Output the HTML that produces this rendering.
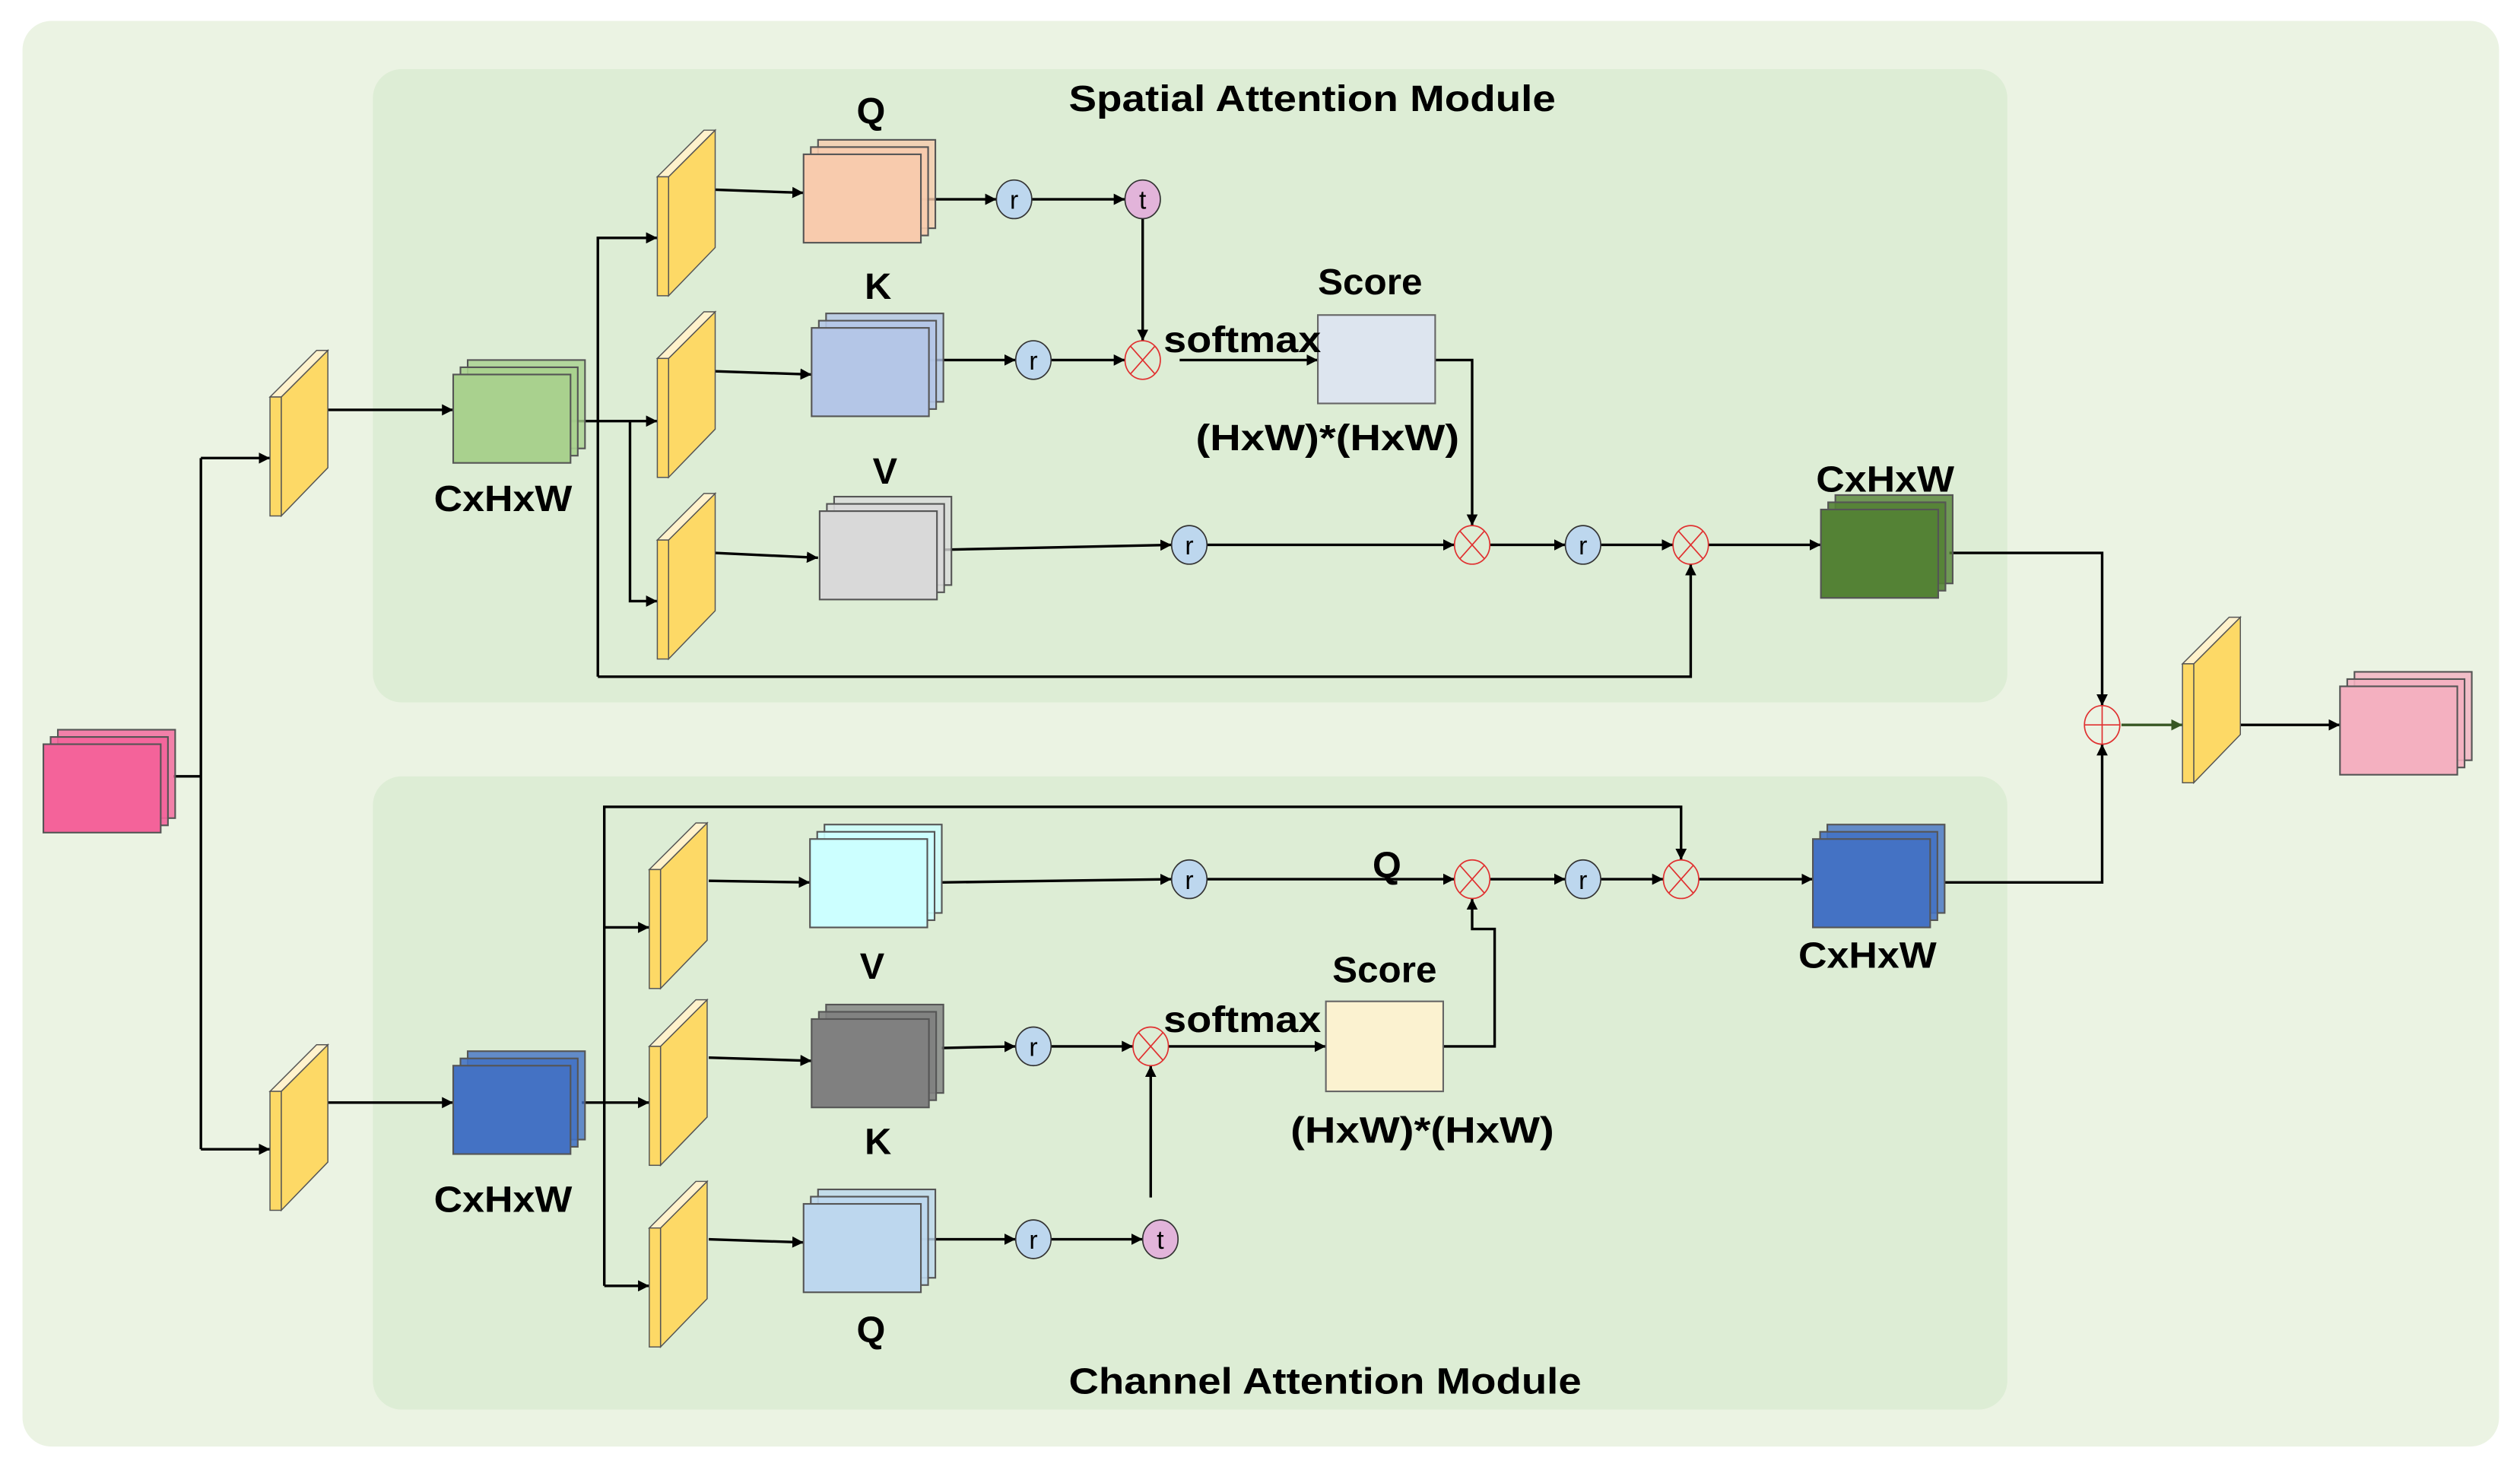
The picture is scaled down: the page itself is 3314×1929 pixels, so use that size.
<!DOCTYPE html>
<html><head><meta charset="utf-8"><style>
html,body{margin:0;padding:0;background:#fff}
svg{display:block}
text{font-family:"Liberation Sans",sans-serif;font-weight:bold;fill:#000}
</style></head><body>
<svg width="3314" height="1929" viewBox="0 0 1568 912.7" preserveAspectRatio="none" xmlns="http://www.w3.org/2000/svg">
<defs>
<marker id="a" viewBox="0 0 10 10" refX="10" refY="5" markerWidth="7" markerHeight="7" orient="auto" markerUnits="userSpaceOnUse"><path d="M0,0L10,5L0,10z" fill="#000"/></marker>
<marker id="ag" viewBox="0 0 10 10" refX="10" refY="5" markerWidth="7" markerHeight="7" orient="auto" markerUnits="userSpaceOnUse"><path d="M0,0L10,5L0,10z" fill="#375623"/></marker>
<g id="slab" stroke="#555" stroke-width="0.7">
<polygon points="7,0 36,-29 36,44 7,74" fill="#fdd966"/>
<polygon points="0,0 7,0 36,-29 29,-29" fill="#fff2cc"/>
<rect x="0" y="0" width="7" height="74" fill="#fdd966"/>
</g>
<g id="stk" stroke="#555" stroke-width="1">
<rect x="9" y="-9" width="73" height="55" fill-opacity="0.8"/>
<rect x="4.5" y="-4.5" width="73" height="55" fill-opacity="0.9"/>
<rect x="0" y="0" width="73" height="55"/>
</g>
<g id="mul"><ellipse rx="11" ry="12" fill="none" stroke="#e03030" stroke-width="0.8"/><path d="M-7.5,-8.5L7.5,8.5M7.5,-8.5L-7.5,8.5" stroke="#e03030" stroke-width="0.8"/></g>
</defs>
<rect x="0" y="0" width="1568" height="913" fill="#fff"/>
<rect x="14" y="13" width="1541" height="887" rx="18" fill="#ebf3e3"/>
<rect x="232" y="43" width="1017" height="394" rx="18" fill="#ddedd5"/>
<rect x="232" y="483" width="1017" height="394" rx="18" fill="#ddedd5"/>

<g stroke="#000" stroke-width="1.6" fill="none">
<!-- input split -->
<path d="M108,483H125"/>
<path d="M125,285V715"/>
<path d="M125,285H168" marker-end="url(#a)"/>
<path d="M125,715H168" marker-end="url(#a)"/>
<!-- spatial -->
<path d="M204,255H282" marker-end="url(#a)"/>
<path d="M355,262H409" marker-end="url(#a)"/>
<path d="M372,421V148H409" marker-end="url(#a)"/>
<path d="M372,421H1052V351" marker-end="url(#a)"/>
<path d="M392,262V374H409" marker-end="url(#a)"/>
<path d="M445,118L500,120" marker-end="url(#a)"/>
<path d="M445,231L505,233" marker-end="url(#a)"/>
<path d="M445,344L509,347" marker-end="url(#a)"/>
<path d="M573,124H620" marker-end="url(#a)"/>
<path d="M642,124H700" marker-end="url(#a)"/>
<path d="M711,136V212" marker-end="url(#a)"/>
<path d="M578,224H632" marker-end="url(#a)"/>
<path d="M654,224H700" marker-end="url(#a)"/>
<path d="M734,224H820" marker-end="url(#a)"/>
<path d="M893,224H916V327" marker-end="url(#a)"/>
<path d="M588,342L729,339" marker-end="url(#a)"/>
<path d="M751,339H905" marker-end="url(#a)"/>
<path d="M927,339H974" marker-end="url(#a)"/>
<path d="M996,339H1041" marker-end="url(#a)"/>
<path d="M1063,339H1133" marker-end="url(#a)"/>
<path d="M1213,344H1308V439" marker-end="url(#a)"/>
<path d="M1394,451H1456" marker-end="url(#a)"/>
<!-- channel -->
<path d="M204,686H282" marker-end="url(#a)"/>
<path d="M362,686H404" marker-end="url(#a)"/>
<path d="M376,800V502H1046V535" marker-end="url(#a)"/>
<path d="M376,577H404" marker-end="url(#a)"/>
<path d="M376,800H404" marker-end="url(#a)"/>
<path d="M441,548L504,549" marker-end="url(#a)"/>
<path d="M441,658L505,660" marker-end="url(#a)"/>
<path d="M441,771L500,773" marker-end="url(#a)"/>
<path d="M586,549L729,547" marker-end="url(#a)"/>
<path d="M751,547H905" marker-end="url(#a)"/>
<path d="M927,547H974" marker-end="url(#a)"/>
<path d="M996,547H1035" marker-end="url(#a)"/>
<path d="M1057,547H1128" marker-end="url(#a)"/>
<path d="M586,652L632,651" marker-end="url(#a)"/>
<path d="M654,651H705" marker-end="url(#a)"/>
<path d="M727,651H825" marker-end="url(#a)"/>
<path d="M898,651H930V578H916V559" marker-end="url(#a)"/>
<path d="M573,771H632" marker-end="url(#a)"/>
<path d="M654,771H711" marker-end="url(#a)"/>
<path d="M716,745V663" marker-end="url(#a)"/>
<path d="M1210,549H1308V463" marker-end="url(#a)"/>
</g>
<path d="M1320,451H1358" stroke="#375623" stroke-width="1.6" marker-end="url(#ag)"/>

<!-- slabs -->
<use href="#slab" x="168" y="247"/>
<use href="#slab" x="168" y="679"/>
<use href="#slab" x="409" y="110"/>
<use href="#slab" x="409" y="223"/>
<use href="#slab" x="409" y="336"/>
<use href="#slab" x="404" y="541"/>
<use href="#slab" x="404" y="651"/>
<use href="#slab" x="404" y="764"/>
<use href="#slab" x="1358" y="413"/>

<!-- stacks -->
<use href="#stk" x="27" y="463" fill="#f4639a"/>
<use href="#stk" x="282" y="233" fill="#a9d18e"/>
<use href="#stk" x="500" y="96" fill="#f8cbad"/>
<use href="#stk" x="505" y="204" fill="#b4c6e7"/>
<use href="#stk" x="510" y="318" fill="#d9d9d9"/>
<use href="#stk" x="1133" y="317" fill="#548235"/>
<use href="#stk" x="1456" y="427" fill="#f4b0c0"/>
<use href="#stk" x="282" y="663" fill="#4472c4"/>
<use href="#stk" x="504" y="522" fill="#ccffff"/>
<use href="#stk" x="505" y="634" fill="#808080"/>
<use href="#stk" x="500" y="749" fill="#bdd7ee"/>
<use href="#stk" x="1128" y="522" fill="#4472c4"/>

<!-- score boxes -->
<rect x="820" y="196" width="73" height="55" fill="#dde5ef" stroke="#666" stroke-width="1"/>
<rect x="825" y="623" width="73" height="56" fill="#fbf2d0" stroke="#666" stroke-width="1"/>

<!-- circles -->
<g stroke="#333" stroke-width="0.8">
<ellipse cx="631" cy="124" rx="11" ry="12" fill="#bdd7ee"/>
<ellipse cx="711" cy="124" rx="11" ry="12" fill="#e2b4da"/>
<ellipse cx="643" cy="224" rx="11" ry="12" fill="#bdd7ee"/>
<ellipse cx="740" cy="339" rx="11" ry="12" fill="#bdd7ee"/>
<ellipse cx="985" cy="339" rx="11" ry="12" fill="#bdd7ee"/>
<ellipse cx="740" cy="547" rx="11" ry="12" fill="#bdd7ee"/>
<ellipse cx="985" cy="547" rx="11" ry="12" fill="#bdd7ee"/>
<ellipse cx="643" cy="651" rx="11" ry="12" fill="#bdd7ee"/>
<ellipse cx="643" cy="771" rx="11" ry="12" fill="#bdd7ee"/>
<ellipse cx="722" cy="771" rx="11" ry="12" fill="#e2b4da"/>
</g>
<use href="#mul" x="711" y="224"/>
<use href="#mul" x="916" y="339"/>
<use href="#mul" x="1052" y="339"/>
<use href="#mul" x="916" y="547"/>
<use href="#mul" x="1046" y="547"/>
<use href="#mul" x="716" y="651"/>
<g>
<ellipse cx="1308" cy="451" rx="11" ry="12" fill="none" stroke="#e03030" stroke-width="0.8"/>
<path d="M1297,451H1319M1308,439V463" stroke="#e03030" stroke-width="0.8"/>
</g>
<g font-size="16" text-anchor="middle" style="font-weight:normal">
<text x="631" y="130" style="font-weight:normal">r</text>
<text x="711" y="130" style="font-weight:normal">t</text>
<text x="643" y="230" style="font-weight:normal">r</text>
<text x="740" y="345" style="font-weight:normal">r</text>
<text x="985" y="345" style="font-weight:normal">r</text>
<text x="740" y="553" style="font-weight:normal">r</text>
<text x="985" y="553" style="font-weight:normal">r</text>
<text x="643" y="657" style="font-weight:normal">r</text>
<text x="643" y="777" style="font-weight:normal">r</text>
<text x="722" y="777" style="font-weight:normal">t</text>
</g>

<!-- labels -->
<g font-size="23">
<text x="665" y="69" textLength="303" lengthAdjust="spacingAndGlyphs">Spatial Attention Module</text>
<text x="665" y="867" textLength="319" lengthAdjust="spacingAndGlyphs">Channel Attention Module</text>
<text x="533" y="77">Q</text>
<text x="538" y="186">K</text>
<text x="543" y="301">V</text>
<text x="820" y="183" textLength="65" lengthAdjust="spacingAndGlyphs">Score</text>
<text x="724" y="219" textLength="98" lengthAdjust="spacingAndGlyphs">softmax</text>
<text x="744" y="280" textLength="164" lengthAdjust="spacingAndGlyphs">(HxW)*(HxW)</text>
<text x="270" y="318" textLength="86" lengthAdjust="spacingAndGlyphs">CxHxW</text>
<text x="1130" y="306" textLength="86" lengthAdjust="spacingAndGlyphs">CxHxW</text>
<text x="854" y="546">Q</text>
<text x="535" y="609">V</text>
<text x="829" y="611" textLength="65" lengthAdjust="spacingAndGlyphs">Score</text>
<text x="724" y="642" textLength="98" lengthAdjust="spacingAndGlyphs">softmax</text>
<text x="803" y="711" textLength="164" lengthAdjust="spacingAndGlyphs">(HxW)*(HxW)</text>
<text x="538" y="718">K</text>
<text x="270" y="754" textLength="86" lengthAdjust="spacingAndGlyphs">CxHxW</text>
<text x="533" y="835">Q</text>
<text x="1119" y="602" textLength="86" lengthAdjust="spacingAndGlyphs">CxHxW</text>
</g>
</svg>
</body></html>
